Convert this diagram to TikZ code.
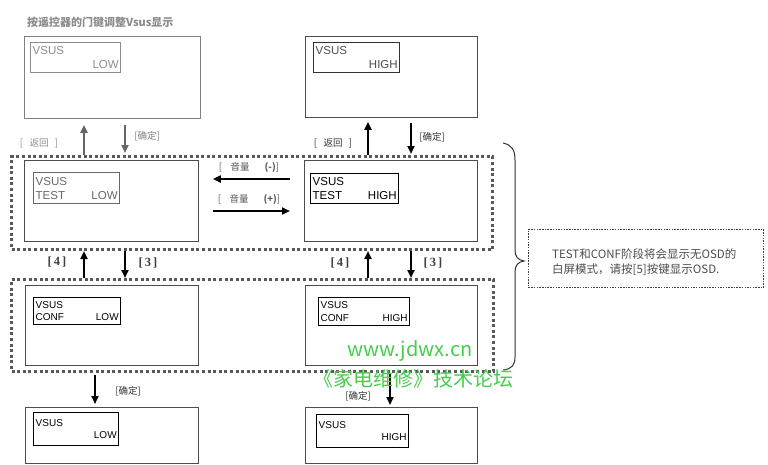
\documentclass[tikz,border=0pt]{standalone}
\usepackage{fontspec}
\setmainfont{Liberation Sans}
\newfontfamily\cjk{Noto Sans CJK SC}
\newfontfamily\serifb{Liberation Serif}
\usetikzlibrary{arrows.meta,calc}
\definecolor{wmgreen}{RGB}{70,205,80}
\begin{document}
\begin{tikzpicture}[x=1pt,y=-1pt,
  outer/.style={draw=black!70, line width=0.9pt, anchor=north west, inner sep=0pt},
  lcd/.style={draw=black, line width=1.4pt, anchor=north west, inner xsep=2pt, inner ysep=1pt, align=left, font=\fontsize{10}{12.5}\selectfont},
  lcdbig/.style={lcd, font=\fontsize{11.5}{14}\selectfont},
  region/.style={draw=black!65, line width=3pt, dash pattern=on 3pt off 2.6pt, anchor=north west, inner sep=0pt},
  arr/.style={line width=2.2pt, -{Triangle[length=8pt,width=7pt]}},
  lbl/.style={font=\cjk\fontsize{9.5}{10}\selectfont, text=black!80, inner sep=0pt},
  num/.style={font=\serifb\bfseries\fontsize{12.5}{13}\selectfont, text=black!75, inner sep=0pt},
  wm/.style={font=\cjk\fontsize{20}{22}\selectfont, text=wmgreen, inner sep=0pt},
]
\useasboundingbox[fill=white] (0,0) rectangle (768,464);

% ---------- top row ----------
\node[lbl, text=black!45, anchor=west, font=\cjk\bfseries\fontsize{11}{12}\selectfont] (title) at (27,22) {按遥控器的门键调整Vsus显示};
\node[outer, draw=black!50, minimum width=176pt, minimum height=82pt] (tl) at (24,36) {};
\node[lcdbig, draw=black!45, text=black!45, text width=86pt, minimum height=30pt] (tllcd) at (30,42) {VSUS\\\mbox{}\hfill LOW};

\node[outer, minimum width=172pt, minimum height=81pt] (tr) at (305,36) {};
\node[lcdbig, draw=black!80, text=black!70, text width=82pt, minimum height=30pt] (trlcd) at (313,42) {VSUS\\\mbox{}\hfill HIGH};

% ---------- TEST region ----------
\node[region, minimum width=481pt, minimum height=93pt] (reg1) at (10,155) {};
\node[outer, minimum width=174pt, minimum height=81pt] (tlow) at (24,160) {};
\node[lcdbig, draw=black!60, text=black!60, text width=82pt, minimum height=31pt] (tlowlcd) at (33,172) {VSUS\\TEST\hfill LOW};
\node[outer, minimum width=173pt, minimum height=81pt] (thigh) at (304,160) {};
\node[lcdbig, text width=84pt, minimum height=30pt] (thighlcd) at (310,173) {VSUS\\TEST\hfill HIGH};

% ---------- CONF region ----------
\node[region, minimum width=482pt, minimum height=92pt] (reg2) at (10,278) {};
\node[outer, minimum width=173pt, minimum height=80pt] (clow) at (25,285) {};
\node[lcd, text width=83pt, minimum height=27pt] (clowlcd) at (33,297) {VSUS\\CONF\hfill LOW};
\node[outer, minimum width=172pt, minimum height=80pt] (chigh) at (305,285) {};
\node[lcd, text width=87pt, minimum height=28pt] (chighlcd) at (318,297) {VSUS\\CONF\hfill HIGH};

% ---------- bottom row ----------
\node[outer, minimum width=173pt, minimum height=56pt] (bl) at (25,407) {};
\node[lcd, text width=81pt, minimum height=33pt] (bllcd) at (33,412) {VSUS\\\mbox{}\hfill LOW};
\node[outer, minimum width=172pt, minimum height=56pt] (br) at (305,407) {};
\node[lcd, text width=88pt, minimum height=33pt] (brlcd) at (316,414) {VSUS\\\mbox{}\hfill HIGH};

% ---------- x positions of arrows ----------
\coordinate (xa) at (84,0);
\coordinate (xb) at (125,0);
\coordinate (xc) at (368,0);
\coordinate (xd) at (411,0);
\coordinate (xe) at (95,0);
\coordinate (xf) at (390,0);
\coordinate (ya) at (0,179);
\coordinate (yb) at (0,211);

% top-left (faded)
\draw[arr, draw=black!60] (reg1.north -| xa) -- ([yshift=-6pt]tl.south -| xa);
\draw[arr, draw=black!60] ([yshift=-6pt]tl.south -| xb) -- ([yshift=2pt]reg1.north -| xb);
\node[lbl, text=black!45] (l1) at (39,143) {[\ \ \ 返回\ \ \ ]};
\node[lbl, text=black!50] (l2) at (147,136) {[确定]};

% top-right
\draw[arr] (reg1.north -| xc) -- ([yshift=-4pt]tr.south -| xc);
\draw[arr] ([yshift=-5pt]tr.south -| xd) -- ([yshift=1pt]reg1.north -| xd);
\node[lbl] (l3) at (333,143) {[\ \ \ 返回\ \ \ ]};
\node[lbl] (l4) at (432,137) {[确定]};

% horizontal
\draw[arr, shorten <=14pt, shorten >=14pt] (thigh.west |- ya) -- (tlow.east |- ya);
\draw[arr, shorten <=14pt, shorten >=14pt] (tlow.east |- yb) -- (thigh.west |- yb);
\node[lbl, text=black!65] (l5) at (249,167) {[\ \ \ \ 音量\ \ \ \ \ \ \ \textbf{(-)}]};
\node[lbl, text=black!65] (l6) at (249,199) {[\ \ \ \ 音量\ \ \ \ \ \ \ \textbf{(+)}]};

% between regions
\draw[arr] (reg2.north -| xa) -- (reg1.south -| xa);
\draw[arr] (reg1.south -| xb) -- (reg2.north -| xb);
\node[num] (n1) at (57,262) {[\,4\,]};
\node[num] (n2) at (148,263) {[\,3\,]};
\draw[arr] (reg2.north -| xc) -- (reg1.south -| xc);
\draw[arr] (reg1.south -| xd) -- (reg2.north -| xd);
\node[num] (n3) at (340,263) {[\,4\,]};
\node[num] (n4) at (433,263) {[\,3\,]};

% bottom
\draw[arr, shorten <=2pt, shorten >=3pt] (reg2.south -| xe) -- (bl.north -| xe);
\draw[arr, shorten >=2pt] (reg2.south -| xf) -- (br.north -| xf);
\node[lbl] (l7) at (128,391) {[确定]};
\node[lbl] (l8) at (358,396) {[确定]};

% brace
\draw[line width=1pt, black!80] (503,143) .. controls (512,145) and (515,150) .. (515,160) -- (515,250) .. controls (515,257) and (518,260) .. (524,261) .. controls (518,262) and (515,265) .. (515,272) -- (515,357) .. controls (515,365) and (512,369) .. (503,370);

% note
\node[draw=black!75, line width=1.1pt, dash pattern=on 1.5pt off 1.2pt, anchor=north west, minimum width=235pt, minimum height=58pt, inner sep=0pt] (note) at (528,229) {};
\node[anchor=west, align=left, font=\cjk\fontsize{11.5}{15}\selectfont, text=black!70, inner sep=0pt] (notetext) at (552,262) {TEST和CONF阶段将会显示无OSD的\\白屏模式，请按[5]按键显示OSD.};

% green watermark
\node[wm] (wm1) at (410,351) {www.jdwx.cn};
\node[wm] (wm2) at (413,379) {《家电维修》技术论坛};
\end{tikzpicture}
\end{document}
